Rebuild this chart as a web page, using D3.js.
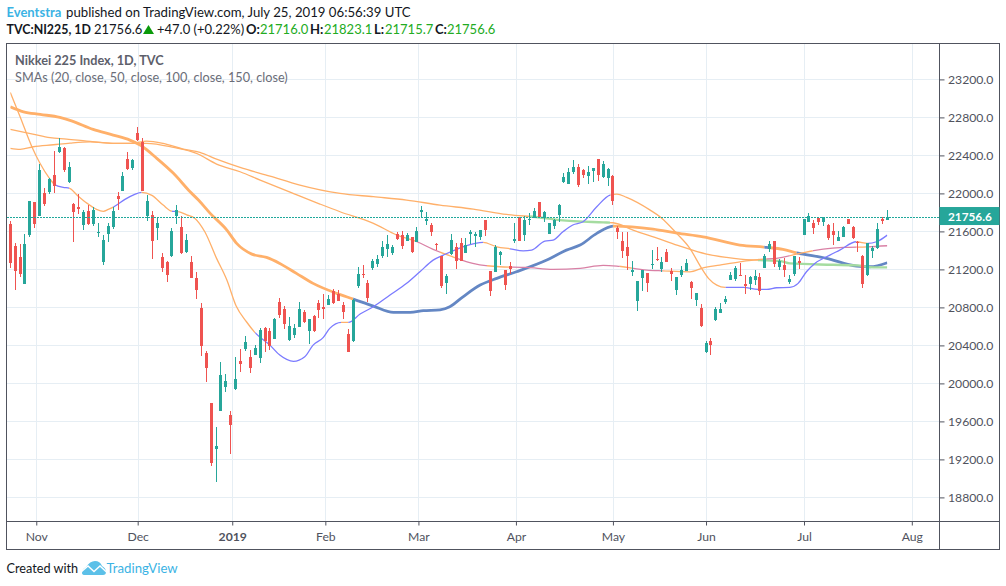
<!DOCTYPE html>
<html>
<head>
<meta charset="utf-8">
<script src="https://cdnjs.cloudflare.com/ajax/libs/d3/7.8.5/d3.min.js"></script>
<style>
  html, body { margin: 0; padding: 0; background: #fff; }
  svg { display: block; }
  text { font-family: "Lato", sans-serif; }
</style>
</head>
<body>
<svg id="chart" width="1006" height="586"></svg>
<script>
// daily candles
var opens = [21677,21445,21330,21049,21561,21909,21758,22003,22014,22193,22435,22477,22119,21888,21856,21667,21814,21677,21586,21277,
  21572,21646,21972,22028,22361,22267,22635,22540,21758,21769,21635,21330,21277,21340,21758,21646,21382,21277,21109,20793,
  20319,19793,19309,19709,19961,19667,19940,20235,20361,20277,20298,20267,20582,20551,20467,20856,20782,20456,20509,20593,
  20751,20551,20709,20846,20804,20825,20972,20940,20825,20519,20446,21025,21151,21056,21211,21259,21340,21414,21372,21572,
  21561,21498,21540,21488,21803,21709,21667,21472,21340,21056,21361,21435,21477,21372,21572,21551,21540,21719,21182,21172,
  21351,21193,21235,21498,21751,21561,21719,21740,21909,21740,21572,21656,21772,22119,22098,22225,22277,22246,22182,22235,
  22361,22172,22161,22182,21635,21498,21435,21172,20867,21109,21161,21246,21305,21204,21382,21182,20982,21140,21182,21067,
  20877,20793,20330,20446,20667,20740,20856,21088,21098,21140,21046,21046,21088,21119,21214,21414,21498,21225,21246,21067,
  21151,21288,21561,21698,21688,21740,21698,21667,21603,21498,21540,21730,21646,21488,21340,21140,21393,21425,21730,21716];
var highs = [21709,21474,21467,21572,21916,21909,22309,22056,22161,22445,22582,22491,22327,21895,21990,21821,21877,21853,21688,21561,
  21688,21856,22014,22225,22435,22361,22698,22582,21982,21814,21740,21372,21284,21635,21877,21758,21572,21340,21172,20846,
  20340,19793,19540,20225,20098,19709,20277,20361,20498,20351,20403,20582,20593,20582,20688,20898,20814,20698,20625,20856,
  20772,20677,20719,20877,20940,20930,20993,20982,20856,20572,20888,21224,21246,21088,21312,21348,21498,21561,21456,21593,
  21603,21582,21540,21646,21867,21803,21688,21477,21340,21151,21572,21477,21530,21530,21614,21593,21614,21719,21182,21456,
  21393,21193,21277,21688,21751,21761,21793,21846,21909,21814,21688,21730,21888,22214,22267,22351,22309,22256,22288,22267,
  22361,22340,22267,22193,21656,21593,21593,21288,21077,21193,21161,21403,21435,21330,21414,21214,21119,21235,21309,21077,
  20951,20835,20446,20477,20804,20846,20919,21172,21235,21267,21140,21130,21193,21161,21361,21498,21498,21309,21319,21140,
  21340,21330,21730,21793,21719,21751,21751,21677,21688,21603,21656,21730,21656,21498,21351,21477,21445,21688,21751,21823.1];
var lows = [21217,20982,21123,21049,21543,21638,21758,21863,21996,22007,22428,22228,22106,21491,21779,21617,21667,21653,21537,21249,
  21488,21628,21824,22028,22249,22243,22554,22025,21709,21309,21509,21172,21067,21330,21677,21361,21372,21109,20888,20288,
  20014,19130,18962,19709,19909,19256,19930,20119,20340,20109,20298,20214,20330,20351,20467,20688,20572,20446,20477,20593,
  20635,20414,20540,20688,20677,20825,20835,20867,20677,20330,20435,21003,21109,20856,21190,21221,21319,21330,21351,21509,
  21414,21498,21372,21488,21740,21667,21551,21403,21003,20940,21351,21204,21288,21372,21467,21435,21509,21551,20919,21172,
  21246,20982,21151,21477,21498,21498,21667,21740,21751,21698,21572,21625,21698,22109,22098,22204,22067,22161,22098,22119,
  22130,22161,22077,21877,21519,21319,21193,21130,20761,20972,20961,21204,21288,21172,21277,21077,20930,21119,21182,20888,
  20814,20593,20319,20298,20656,20740,20835,21088,21077,21130,20940,20982,21035,20930,21214,21382,21225,21193,21119,21046,
  21130,21204,21561,21698,21572,21667,21656,21509,21456,21498,21540,21677,21519,21382,21003,21130,21319,21414,21677,21715.7];
var closes = [21270,21185,21154,21467,21916,21677,22246,21884,22154,22077,22488,22246,22274,21803,21835,21803,21677,21824,21593,21509,
  21656,21814,21940,22182,22256,22354,22561,22025,21919,21498,21688,21214,21140,21603,21824,21372,21509,21109,20982,20393,
  20161,19161,19340,20088,20025,19562,20046,20204,20435,20161,20372,20561,20446,20393,20677,20719,20625,20604,20582,20782,
  20646,20677,20551,20772,20783,20888,20846,20867,20751,20330,20877,21151,21140,20898,21291,21306,21435,21467,21435,21519,
  21445,21561,21382,21603,21824,21730,21593,21461,21025,21130,21509,21288,21288,21456,21593,21572,21614,21614,20972,21435,
  21382,21035,21204,21519,21498,21719,21730,21814,21751,21803,21688,21719,21877,22172,22225,22277,22088,22193,22225,22267,
  22193,22309,22256,21919,21593,21393,21340,21193,21077,21193,21056,21256,21298,21277,21277,21151,21119,21193,21267,21003,
  20951,20604,20425,20404,20782,20782,20888,21140,21214,21130,21025,21119,21130,20972,21340,21467,21256,21288,21193,21098,
  21340,21267,21730,21761,21635,21698,21751,21530,21561,21540,21646,21677,21530,21477,21046,21477,21425,21625,21709,21756.6];

// moving averages: bar index and price read at points along each line
var sma20Idx = [0,2,4.4,6,8.1,9.1,10.8,12,13.7,15.7,17.6,19,20,21.4,23.4,25.4,26.8,28.9,31.2,32.9,34.3,36,37.7,39.7,42.1,44.2,46.1,48.2,49.9,53,55,57.8,60.1,61.8,63.9,65.2,67.6,69,71.4,74.1,77.5,80.9,83.6,86.3,88.4,92.4,96.5,99.3,102,104.7,106.4,109.1,110.8,112.8,114.8,116.9,119.7,122.4,123.8,125.8,130.6,132.6,136,138.7,141.1,142.5,144.2,145.9,149.6,152.6,154.4,156.4,159.1,160.8,162.5,164.2,166.6,169.3,172.7,175,176.8,179];
var sma20Val = [23063,22807,22491,22322,22151,22091,22063,22056,21979,21895,21832,21811,21832,21867,21937,21990,22011,21979,21877,21814,21807,21775,21737,21596,21316,21088,20814,20649,20537,20403,20298,20232,20280,20403,20484,20579,20642,20642,20730,20807,20930,21053,21175,21298,21351,21438,21485,21438,21417,21396,21403,21498,21509,21596,21667,21701,21859,21982,21993,21958,21824,21754,21579,21421,21211,21106,21035,21011,21011,20990,20990,21007,21011,21053,21175,21263,21333,21403,21491,21474,21491,21561];
var sma50Idx = [0,4.6,8.1,11.5,15.6,21,25.1,27.8,33.3,38,42.1,46.9,51,57.1,63.2,67.3,74,78.9,83,86.3,90.3,94.4,99.9,105.4,110.8,116.3,121,123.8,129.9,133.2,138.7,141.4,144.8,148.9,153,156.4,161.2,165.9,170,174.9,179];
var sma50Val = [22675,22625,22586,22572,22551,22527,22527,22527,22484,22421,22309,22228,22140,22014,21888,21807,21688,21561,21491,21411,21333,21263,21228,21221,21200,21211,21242,21235,21193,21185,21175,21217,21246,21280,21306,21316,21369,21414,21432,21438,21449];
var sma100Idx = [0,2,4.7,8.8,12.2,16.3,21,25,27.8,31.2,35.3,38.7,42.1,46.9,53,59.1,67.3,74.1,80.9,87.7,94.5,101.3,108.1,112.2,121,123,127.1,132.6,136.7,142.1,146.2,149,153,157.1,159.1,167.9,172.8,176.1,179];
var sma100Val = [22474,22463,22491,22512,22530,22543,22527,22527,22551,22527,22467,22432,22361,22274,22182,22088,22000,21965,21930,21877,21835,21779,21747,21719,21695,21691,21614,21519,21445,21361,21326,21309,21298,21288,21263,21249,21242,21221,21221];
var sma150Idx = [0,2.7,6.1,10.1,12.5,16.9,21,24.4,26.5,29.9,33.3,36.7,38.4,40.8,44.2,46.2,49.3,52.3,55,58.4,61.8,66.6,70,74.1,78.2,81.6,84.3,87.7,89.7,92.4,95.9,99.3,103.3,109.5,113.5,116.3,119.7,123.1,131.2,136.1,141.4,148.9,154.4,157.7,160.5,166.6,172.7,175.5,179];
var sma150Val = [22912,22859,22832,22800,22764,22674,22614,22561,22509,22369,22211,22017,21930,21790,21614,21474,21361,21326,21263,21158,21053,20948,20888,20814,20748,20748,20765,20775,20807,20912,21035,21106,21175,21298,21403,21456,21579,21656,21624,21582,21543,21456,21432,21411,21375,21316,21235,21228,21270];

// bar ranges where each line changes colour
var sma20Alt = [[9.1,12],[21,26.8],[33,34.3],[50,67.5],[69,96.5],[102,122.5],[146,172.7],[175,179]];
var sma50Alt = [[82.6,87.7],[90.8,97.3],[102,124.4],[126.9,133.2],[154.4,159.1],[163.8,172.7],[175,179]];
var sma100Alt = [[106.1,122.4],[152.6,179]];
var sma150Alt = [[70,123],[153.9,155],[160.5,179]];

var priceTicks = [18800,19200,19600,20000,20400,20800,21200,21600,22000,22400,22800,23200];
var monthTicks = [5.3,26,45.3,64.3,83.3,103.2,123,142,162,184];
var monthLabels = ["Nov","Dec","2019","Feb","Mar","Apr","May","Jun","Jul","Aug"];
var lastPrice = 21756.6;

var upColor = "#26a69a", downColor = "#ef5350", axisColor = "#50535e", gridColor = "#e6eef4";
var orange = "#ffb06a";

var svg = d3.select("#chart");

var x = d3.scaleLinear().domain([0, 179]).range([10.3, 887.3]);
var y = d3.scaleLinear().domain([21200, 23200]).range([269.4, 79.4]);

var left = 6.5, right = 939.5, top_ = 43.5, bottom = 521.5, outerR = 999.5, outerB = 549.5;

// grid
var grid = svg.append("g");
grid.selectAll(".gx").data(monthTicks).enter().append("line")
  .attr("x1", d => Math.round(x(d)) + 0.5).attr("x2", d => Math.round(x(d)) + 0.5)
  .attr("y1", top_).attr("y2", bottom)
  .attr("stroke", gridColor);
grid.selectAll(".gy").data(priceTicks).enter().append("line")
  .attr("x1", left).attr("x2", right)
  .attr("y1", d => Math.round(y(d)) + 0.5).attr("y2", d => Math.round(y(d)) + 0.5)
  .attr("stroke", gridColor);

// moving averages
var defs = svg.append("defs");
var clipCount = 0;

function drawPart(d, from, to, color, width) {
  var id = "clip" + (clipCount++);
  defs.append("clipPath").attr("id", id).append("rect")
    .attr("x", x(from)).attr("width", x(to) - x(from))
    .attr("y", top_).attr("height", bottom - top_);
  svg.append("path")
    .attr("d", d)
    .attr("fill", "none")
    .attr("stroke", color)
    .attr("stroke-width", width)
    .attr("clip-path", "url(#" + id + ")");
}

function drawSma(idx, val, alt, width, altColor, altWidth) {
  var line = d3.line()
    .x((d, i) => x(idx[i]))
    .y(d => y(d))
    .curve(d3.curveMonotoneX);
  var d = line(val);

  // orange between the ranges, the other colour inside them
  var pos = 0;
  alt.forEach(function (range) {
    if (range[0] > pos) drawPart(d, pos, range[0], orange, width);
    drawPart(d, range[0], range[1], altColor, altWidth);
    pos = range[1];
  });
  if (pos < 179) drawPart(d, pos, 179, orange, width);
}

drawSma(sma150Idx, sma150Val, sma150Alt, 2.8, "#6487c4", 2.8);
drawSma(sma100Idx, sma100Val, sma100Alt, 1.3, "#a5dca0", 2.4);
drawSma(sma50Idx, sma50Val, sma50Alt, 1.3, "#d980a5", 1.3);
drawSma(sma20Idx, sma20Val, sma20Alt, 1.3, "#7b7bff", 1.3);

// candles
var candle = svg.append("g").selectAll("g").data(opens).enter().append("g")
  .attr("shape-rendering", "crispEdges");

candle.append("line")
  .attr("x1", (d, i) => Math.floor(x(i)) + 0.5)
  .attr("x2", (d, i) => Math.floor(x(i)) + 0.5)
  .attr("y1", (d, i) => y(highs[i]))
  .attr("y2", (d, i) => y(lows[i]))
  .attr("stroke", (d, i) => closes[i] >= opens[i] ? upColor : downColor);

candle.append("rect")
  .attr("x", (d, i) => Math.floor(x(i)) - 1)
  .attr("width", 3)
  .attr("y", (d, i) => y(Math.max(opens[i], closes[i])))
  .attr("height", (d, i) => Math.max(1, Math.abs(y(opens[i]) - y(closes[i]))))
  .attr("fill", (d, i) => closes[i] >= opens[i] ? upColor : downColor);

// last price line, on top of the candles
svg.append("line")
  .attr("x1", 7).attr("x2", right)
  .attr("y1", Math.round(y(lastPrice)) + 0.5).attr("y2", Math.round(y(lastPrice)) + 0.5)
  .attr("stroke", "#1fa89b").attr("stroke-width", 1.2).attr("stroke-dasharray", "2 1");

// axes
var yAxis = d3.axisRight(y).tickValues(priceTicks).tickSize(5).tickPadding(3.5)
  .tickFormat(d3.format(".1f"));
var yg = svg.append("g").attr("transform", "translate(" + right + ",0)").call(yAxis);
yg.select(".domain").remove();
yg.selectAll(".tick line").attr("stroke", axisColor);
yg.selectAll(".tick text").attr("fill", axisColor).attr("font-size", 12.2).style("font-family", "Lato");

var xAxis = d3.axisBottom(x).tickValues(monthTicks).tickSize(4).tickPadding(7)
  .tickFormat((d, i) => monthLabels[i]);
var xg = svg.append("g").attr("transform", "translate(0," + bottom + ")").call(xAxis);
xg.select(".domain").remove();
xg.selectAll(".tick line").attr("stroke", axisColor);
xg.selectAll(".tick text").attr("fill", axisColor).attr("font-size", 12.2).style("font-family", "Lato")
  .attr("font-weight", (d, i) => monthLabels[i] == "2019" ? "bold" : "normal");

// frame
svg.append("rect")
  .attr("x", left).attr("y", top_)
  .attr("width", outerR - left).attr("height", outerB - top_)
  .attr("fill", "none").attr("stroke", axisColor);
svg.append("line").attr("x1", right).attr("x2", right).attr("y1", top_).attr("y2", outerB).attr("stroke", axisColor);
svg.append("line").attr("x1", left).attr("x2", outerR).attr("y1", bottom).attr("y2", bottom).attr("stroke", axisColor);

// last price tag
svg.append("rect")
  .attr("x", right).attr("y", y(lastPrice) - 9.5)
  .attr("width", outerR - right).attr("height", 18)
  .attr("fill", upColor);
svg.append("text")
  .attr("x", 948).attr("y", y(lastPrice) + 4.5)
  .attr("fill", "#fff").attr("font-size", 11.8).attr("font-weight", "bold")
  .text(d3.format(".1f")(lastPrice));

// header text
var head = svg.append("text").attr("x", 6.5).attr("y", 17).attr("font-size", 13.2).attr("fill", "#131722");
head.append("tspan").attr("fill", "#3bb3e4").attr("font-weight", "bold").attr("font-size", 13).text("Eventstra");
head.append("tspan").attr("x", 66).text("published on TradingView.com, July 25, 2019 06:56:39 UTC");

var green = "#22ab22";
var head2 = svg.append("text").attr("x", 6.5).attr("y", 34).attr("font-size", 13).attr("fill", "#131722");
head2.append("tspan").attr("font-weight", "bold").attr("font-size", 12.4).text("TVC:NI225, 1D");
head2.append("tspan").attr("x", 94).text("21756.6");
head2.append("tspan").attr("x", 157).text("+47.0 (+0.22%)");
head2.append("tspan").attr("x", 246).attr("font-weight", "bold").text("O:");
head2.append("tspan").attr("x", 260).attr("fill", green).text("21716.0");
head2.append("tspan").attr("x", 310).attr("font-weight", "bold").text("H:");
head2.append("tspan").attr("x", 324).attr("fill", green).text("21823.1");
head2.append("tspan").attr("x", 374).attr("font-weight", "bold").text("L:");
head2.append("tspan").attr("x", 385).attr("fill", green).text("21715.7");
head2.append("tspan").attr("x", 435).attr("font-weight", "bold").text("C:");
head2.append("tspan").attr("x", 447).attr("fill", green).text("21756.6");

svg.append("path").attr("d", "M143 34 L154 34 L148.5 25 Z").attr("fill", "#0a9a0a");

// legend inside the pane
svg.append("text").attr("x", 15).attr("y", 65).attr("font-size", 12.7).attr("font-weight", "bold")
  .attr("fill", "#5d606b").text("Nikkei 225 Index, 1D, TVC");
svg.append("text").attr("x", 15).attr("y", 82).attr("font-size", 12.7)
  .attr("fill", "#6a6d78").text("SMAs (20, close, 50, close, 100, close, 150, close)");

// footer
svg.append("text").attr("x", 6.5).attr("y", 573).attr("font-size", 12.7).attr("fill", "#131722").text("Created with");
svg.append("path")
  .attr("d", "M82 573 Q82 569 86 567 Q90 561 95 561 Q100 561 102 566 Q106 568 106 572 Q106 575 103 575 L85 575 Q82 575 82 573 Z")
  .attr("fill", "#5cc0e8");
svg.append("path")
  .attr("d", "M81 572 L88 566 L94 571.5 L100 566 L107 572.5")
  .attr("fill", "none").attr("stroke", "#fff").attr("stroke-width", 1.4);
svg.append("text").attr("x", 106.5).attr("y", 573).attr("font-size", 13.2).attr("fill", "#3bb3e4").text("TradingView");
</script>
</body>
</html>
